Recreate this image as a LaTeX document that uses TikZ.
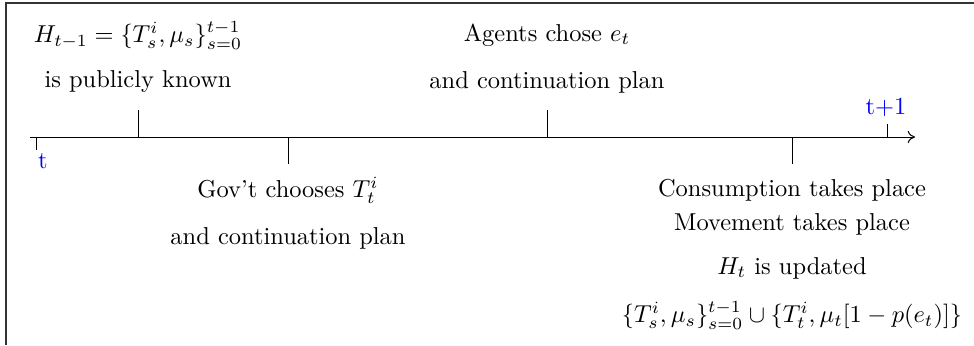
\documentclass[tikz,border=0pt]{standalone}
\usetikzlibrary{arrows.meta}
\begin{document}
\begin{tikzpicture}[x=0.014374cm,y=-0.014374cm,
  lbl/.style={inner sep=0pt,anchor=center},
  tlbl/.style={inner sep=0pt,text=blue},
  tick/.style={line width=0.4pt},
  frame/.style={line width=0.7pt,draw=black!80}]
\useasboundingbox (0,0) rectangle (974,345);
\draw[frame] (6,345) -- (6,3) -- (974,3);
% axis
\coordinate (a0) at (30,137);
\coordinate (a1) at (915,137);
\draw[-{To[length=3pt,width=5pt]},line width=0.4pt] (a0) -- (a1);
% tick positions
\coordinate (k0) at (36,137);
\coordinate (k1) at (138,137);
\coordinate (k2) at (288,137);
\coordinate (k3) at (547,137);
\coordinate (k4) at (792,137);
\coordinate (k5) at (887,137);
\draw[tick] (k0) -- ++(0,13);
\draw[tick] (k1) -- ++(0,-27);
\draw[tick] (k2) -- ++(0,27);
\draw[tick] (k3) -- ++(0,-27);
\draw[tick] (k4) -- ++(0,27);
\draw[tick] (k5) -- ++(0,-13);
\node[tlbl] (lt) at (43,161) {t};
\node[tlbl] (lt1) at (886,107) {t+1};
% texts
\node[lbl] (h1) at (138,35) {$H_{t-1}=\{T^i_s,\mu_s\}^{t-1}_{s=0}$};
\node[lbl] (h2) at (138,82) {is publicly known};
\node[lbl] (a1t) at (547,35) {Agents chose $e_t$};
\node[lbl] (a2t) at (547,82) {and continuation plan};
\node[lbl] (g1) at (288,190) {Gov't chooses $T^i_t$};
\node[lbl] (g2) at (288,238) {and continuation plan};
\node[lbl] (c1) at (792,190) {Consumption takes place};
\node[lbl] (c2) at (792,224) {Movement takes place};
\node[lbl] (c3) at (792,268) {$H_t$ is updated};
\node[lbl] (c4) at (792,315) {$\{T^i_s,\mu_s\}^{t-1}_{s=0}\cup\{T^i_t,\mu_t[1-p(e_t)]\}$};
\end{tikzpicture}
\end{document}
